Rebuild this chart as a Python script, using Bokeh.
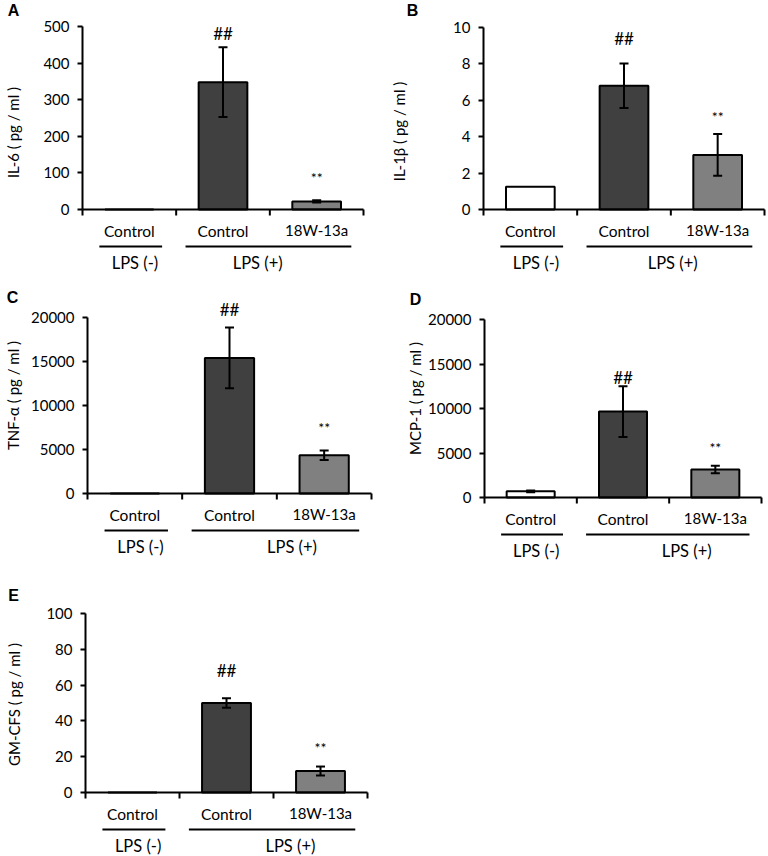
import math
from bokeh.plotting import figure
from bokeh.models import Range1d, FixedTicker, NumeralTickFormatter, LinearAxis
from bokeh.layouts import column, row
from bokeh.embed import file_html
from bokeh.resources import INLINE
from bokeh.core.properties import value

# ---------------- data ----------------
categories = ["Control", "Control", "18W-13a"]
groups = ["LPS (-)", "LPS (+)"]
panel_letters = ["A", "B", "C", "D", "E"]
y_labels = ["IL-6 ( pg / ml )", "IL-1β ( pg / ml )", "TNF-α ( pg / ml )",
            "MCP-1 ( pg / ml )", "GM-CFS ( pg / ml )"]

il6_mean = [0, 348, 22]
il6_err = [0, 95, 3]
il1b_mean = [1.25, 6.8, 3.0]
il1b_err = [0, 1.22, 1.15]
tnfa_mean = [0, 15400, 4350]
tnfa_err = [0, 3450, 550]
mcp1_mean = [700, 9650, 3150]
mcp1_err = [100, 2850, 420]
gmcsf_mean = [0, 50, 12]
gmcsf_err = [0, 2.7, 2.5]

il6_ticks = [0, 100, 200, 300, 400, 500]
il1b_ticks = [0, 2, 4, 6, 8, 10]
tnfa_ticks = [0, 5000, 10000, 15000, 20000]
mcp1_ticks = [0, 5000, 10000, 15000, 20000]
gmcsf_ticks = [0, 20, 40, 60, 80, 100]

# heights (data units) of the significance marks
hash_y = [481, 9.4, 20900, 13480, 68]
star_y = [87, 5.1, 7500, 5620, 25]

bar_colors = ["white", "#404040", "#808080"]

# ---------------- layout (page pixel geometry) ----------------
# fig_left, fig_top, fig_w, fig_h, axis_x, axis_end, y0_px, ytop_px
geoms = [
    (0, 0, 384, 285, 82, 363, 209, 26),
    (384, 0, 383, 285, 483, 764, 209, 27),
    (0, 285, 384, 285, 87, 371, 493, 317),
    (384, 285, 383, 285, 484, 761, 497, 319),
    (0, 570, 384, 285, 85, 367, 792, 613),
]
letter_pos = [(13, 10), (412, 10), (12, 297), (415, 299), (13, 595)]
ylabel_pos = [(12, 132), (398, 131), (12, 395), (414, 398), (13, 704)]
lps_pos_center = [1.87, 2.02, 2.16, 2.19, 2.18]

FONT = "Lato"


def make_panel(i, means, errs, ticks):
    fl, ft, fw, fh, ax, ae, y0, yt = geoms[i]
    ymax = ticks[-1]
    cw = (ae - ax) / 3.0
    ppu = (y0 - yt) / ymax
    x_start = -(ax - fl) / cw
    x_end = (fl + fw - ax) / cw
    y_end = (y0 - ft) / ppu
    y_start = -(ft + fh - y0) / ppu

    def dx(px):
        return px / cw

    def dy(px):
        return px / ppu

    def X(px):
        return (px - ax) / cw

    def Y(py):
        return (y0 - py) / ppu

    p = figure(width=fw, height=fh, x_range=Range1d(x_start, x_end),
               y_range=Range1d(y_start, y_end), x_axis_location=None,
               y_axis_location=None,
               output_backend="svg", toolbar_location=None,
               min_border_left=0, min_border_right=0, min_border_top=0,
               min_border_bottom=0)
    p.outline_line_color = None
    p.grid.visible = False
    p.background_fill_color = "white"
    p.border_fill_color = "white"

    ya = LinearAxis(fixed_location=0)
    ya.ticker = FixedTicker(ticks=ticks)
    ya.bounds = (0, ymax)
    ya.formatter = NumeralTickFormatter(format="0")
    ya.axis_line_width = 2
    ya.axis_line_color = "black"
    ya.major_tick_line_width = 2
    ya.major_tick_line_color = "black"
    ya.major_tick_out = 5
    ya.major_tick_in = 0
    ya.minor_tick_line_color = None
    ya.major_label_text_font = FONT
    ya.major_label_text_font_size = "15px"
    ya.major_label_text_color = "black"
    ya.major_label_standoff = 8
    p.add_layout(ya, "left")

    lx, ly = ylabel_pos[i]
    p.text(x=[X(lx)], y=[Y(ly)], text=[y_labels[i]], angle=math.pi / 2,
           text_font=value(FONT), text_font_size="15px", text_align="center",
           text_baseline="middle", text_color="black")

    xs = [0.5, 1.5, 2.5]
    p.vbar(x=xs, top=means, bottom=0, width=0.52, fill_color=bar_colors,
           line_color="black", line_width=2)

    # error bars
    ex, elo, ehi = [], [], []
    for x, m, e in zip(xs, means, errs):
        if e > 0:
            ex.append(x)
            elo.append(m - e)
            ehi.append(m + e)
    cap = dx(4.5)
    p.segment(x0=ex, y0=elo, x1=ex, y1=ehi, line_color="black", line_width=2)
    p.segment(x0=[x - cap for x in ex], y0=ehi, x1=[x + cap for x in ex], y1=ehi,
              line_color="black", line_width=2)
    p.segment(x0=[x - cap for x in ex], y0=elo, x1=[x + cap for x in ex], y1=elo,
              line_color="black", line_width=2)

    # x baseline with downward ticks at category boundaries
    p.segment(x0=[0], y0=[0], x1=[3], y1=[0], line_color="black", line_width=2)
    bt = [0, 1, 2, 3]
    p.segment(x0=bt, y0=[0] * 4, x1=bt, y1=[-dy(6)] * 4, line_color="black",
              line_width=2)

    # category labels
    p.text(x=[0.5, 1.5], y=[-dy(21)] * 2, text=categories[:2],
           text_font=value(FONT), text_font_size="15.5px", text_align="center",
           text_baseline="middle", text_color="black")
    p.text(x=[2.5], y=[-dy(20)], text=categories[2:],
           text_font=value(FONT), text_font_size="15px", text_align="center",
           text_baseline="middle", text_color="black")
    # group underlines
    p.segment(x0=[0.18, 1.1], y0=[-dy(37)] * 2, x1=[0.85, 2.87], y1=[-dy(37)] * 2,
              line_color="black", line_width=2)
    p.text(x=[0.56, lps_pos_center[i]], y=[-dy(53)] * 2, text=groups,
           text_font=value(FONT), text_font_size="16.5px", text_align="center",
           text_baseline="middle", text_color="black")

    # significance marks
    p.text(x=[1.5], y=[hash_y[i]], text=["##"], text_font=value(FONT),
           text_font_size="17px", text_align="center", text_baseline="middle",
           text_color="black")
    p.text(x=[2.5], y=[star_y[i]], text=["**"], text_font=value(FONT),
           text_font_size="14px", text_align="center", text_baseline="middle",
           text_color="black")

    # panel letter
    gx, gy = letter_pos[i]
    p.text(x=[X(gx)], y=[Y(gy)], text=[panel_letters[i]],
           text_font=value("Liberation Sans"), text_font_style="bold",
           text_font_size="16px", text_align="center", text_baseline="middle",
           text_color="black")
    return p


pA = make_panel(0, il6_mean, il6_err, il6_ticks)
pB = make_panel(1, il1b_mean, il1b_err, il1b_ticks)
pC = make_panel(2, tnfa_mean, tnfa_err, tnfa_ticks)
pD = make_panel(3, mcp1_mean, mcp1_err, mcp1_ticks)
pE = make_panel(4, gmcsf_mean, gmcsf_err, gmcsf_ticks)

layout = column(row(pA, pB), row(pC, pD), row(pE))
open("out.html", "w").write(file_html(layout, INLINE))
